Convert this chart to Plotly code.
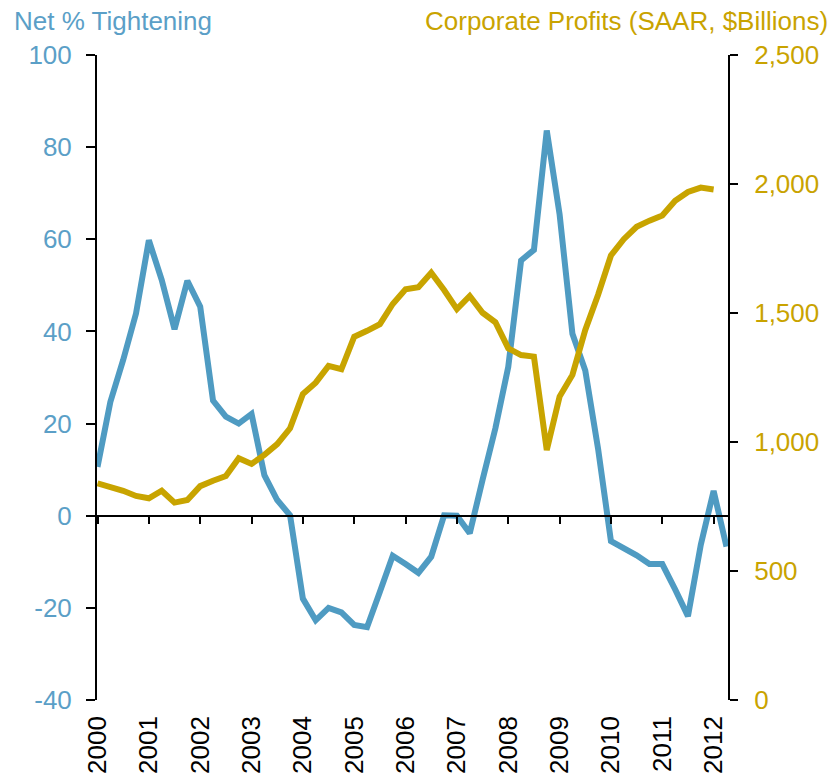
import plotly.graph_objects as go

# Quarterly data, 2000Q1 onward
start_year = 2000
net_tightening = [
    10.6, 24.7, 33.8, 43.9,
    59.8, 51.2, 40.5, 51.0,
    45.4, 25.0, 21.5, 20.0,
    22.1, 8.8, 3.4, 0.1,
    -18.0, -22.7, -20.0, -21.0,
    -23.7, -24.2, -16.5, -8.7,
    -10.5, -12.4, -8.9, 0.1,
    0.0, -3.8, 7.8, 19.0,
    32.3, 55.4, 57.7, 83.6,
    65.4, 39.5, 31.5, 14.5,
    -5.5, -7.0, -8.6, -10.5,
    -10.5, -16.0, -21.8, -6.3,
    5.4, -6.7,
]
corporate_profits = [
    840, 827, 811, 791,
    782, 811, 765, 775,
    829, 850, 868, 937,
    915, 950, 992, 1053,
    1186, 1230, 1295, 1282,
    1408, 1431, 1457, 1535,
    1592, 1600, 1656, 1589,
    1515, 1566, 1501, 1464,
    1363, 1337, 1331, 969,
    1176, 1260, 1434, 1571,
    1723, 1786, 1834, 1858,
    1878, 1935, 1969, 1986,
    1979,
]
year_ticks = list(range(2000, 2013))
year_labels = [str(y) for y in year_ticks]
left_ticks = [-40, -20, 0, 20, 40, 60, 80, 100]
left_labels = ["-40", "-20", "0", "20", "40", "60", "80", "100"]
left_title = "Net % Tightening"
right_title = "Corporate Profits (SAAR, $Billions)"

x_blue = [start_year + i * 0.25 for i in range(len(net_tightening))]
x_gold = [start_year + i * 0.25 for i in range(len(corporate_profits))]

BLUE_LINE = "#4F9BC2"
BLUE_TEXT = "#5B9FC7"
GOLD_LINE = "#C8A400"
GOLD_TEXT = "#C9A300"
FONT = "Liberation Sans, Arial, sans-serif"
FS = 26

fig = go.Figure()
fig.add_trace(go.Scatter(x=x_blue, y=net_tightening, mode="lines",
                         line=dict(color=BLUE_LINE, width=6),
                         xaxis="x", yaxis="y", showlegend=False))
fig.add_trace(go.Scatter(x=x_gold, y=corporate_profits, mode="lines",
                         line=dict(color=GOLD_LINE, width=6),
                         xaxis="x", yaxis="y2", showlegend=False))

xr = [1999.99, 2012.28]
fig.update_layout(
    width=837, height=778,
    margin=dict(l=97, r=109, t=55, b=78),
    paper_bgcolor="white", plot_bgcolor="white",
    font=dict(family=FONT, size=FS, color="black"),
    xaxis=dict(range=xr, anchor="free", position=40 / 140, automargin=False,
               showline=True, linecolor="black", linewidth=2,
               ticks="outside", ticklen=7, tickwidth=2, tickcolor="black",
               tickvals=year_ticks, ticktext=year_labels, tickangle=-90,
               ticklabelstandoff=182,
               tickfont=dict(family=FONT, size=FS, color="black"),
               showgrid=False, zeroline=False),
    yaxis=dict(range=[-40, 100], tickvals=left_ticks, ticktext=left_labels,
               automargin=False,
               showline=True, linecolor="black", linewidth=2,
               ticks="outside", ticklen=9, tickwidth=2, tickcolor="black",
               ticklabelstandoff=9,
               tickfont=dict(family=FONT, size=FS, color=BLUE_TEXT),
               showgrid=False, zeroline=False),
    yaxis2=dict(range=[0, 2500], dtick=500, tick0=0, overlaying="y", side="right",
                anchor="x", tickformat=",", automargin=False,
                showline=True, linecolor="black", linewidth=2,
                ticks="outside", ticklen=8, tickwidth=2, tickcolor="black",
                ticklabelstandoff=11,
                tickfont=dict(family=FONT, size=FS, color=GOLD_TEXT),
                showgrid=False, zeroline=False),
    annotations=[
        dict(text=left_title, xref="paper", yref="paper", x=-0.135, y=1.053,
             xanchor="left", yanchor="middle", showarrow=False,
             font=dict(family=FONT, size=FS, color=BLUE_TEXT)),
        dict(text=right_title, xref="paper", yref="paper", x=1.162, y=1.053,
             xanchor="right", yanchor="middle", showarrow=False,
             font=dict(family=FONT, size=FS, color=GOLD_TEXT)),
    ],
)

fig.write_html("out.html", config={"displayModeBar": False},
               post_script="document.body.style.margin='0';")
